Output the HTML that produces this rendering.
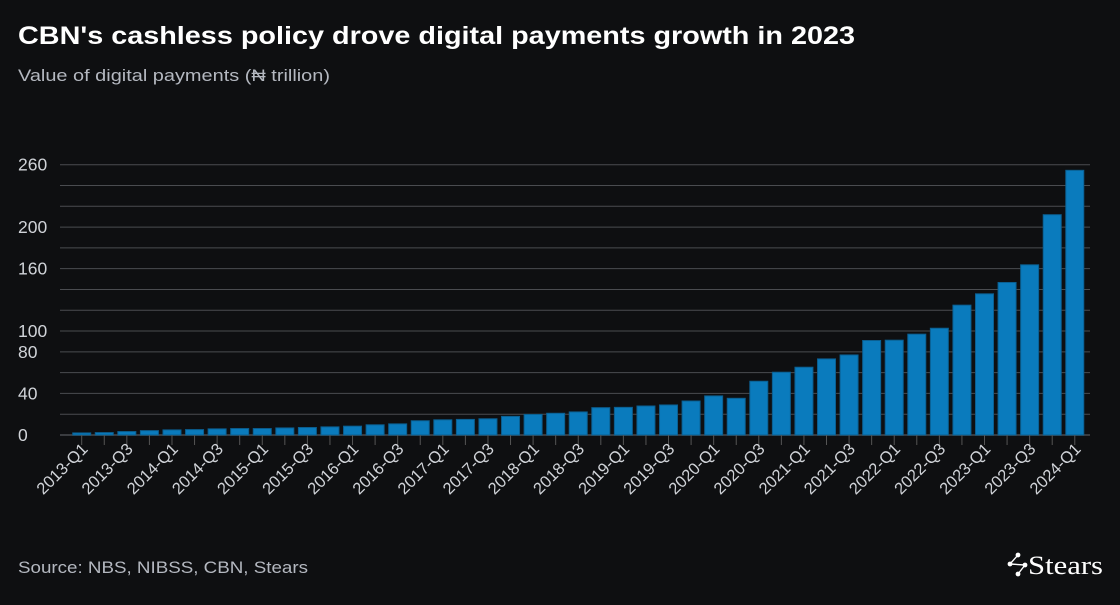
<!DOCTYPE html>
<html><head><meta charset="utf-8"><style>
body{margin:0;background:#0e0f11;width:1120px;height:600px;overflow:hidden;font-family:"Liberation Sans",sans-serif}
</style></head><body>
<svg width="1120" height="600" xmlns="http://www.w3.org/2000/svg">
<rect width="1120" height="600" fill="#0e0f11"/>
<text x="18" y="44" fill="#ffffff" font-size="25" font-weight="bold" textLength="837" lengthAdjust="spacingAndGlyphs">CBN's cashless policy drove digital payments growth in 2023</text>
<text x="18" y="81" fill="#b4b8c0" font-size="17" textLength="312" lengthAdjust="spacingAndGlyphs">Value of digital payments (₦ trillion)</text>
<g id="grid"></g><g id="bars"></g><g id="xaxis"></g><g id="yaxis"></g>
<text x="18" y="573" fill="#b4b8c0" font-size="17" textLength="290" lengthAdjust="spacingAndGlyphs">Source: NBS, NIBSS, CBN, Stears</text>
<g>
<circle cx="1010" cy="564" r="2.4" fill="#fff"/><circle cx="1018" cy="555" r="2.4" fill="#fff"/><circle cx="1018" cy="574" r="2.4" fill="#fff"/><circle cx="1025" cy="565" r="2.4" fill="#fff"/>
<path d="M1010 564 L1018 555 M1010 564 L1025 565 L1018 574" stroke="#fff" stroke-width="1.4" fill="none"/>
<text x="1028" y="574" fill="#fff" font-size="26" font-family="Liberation Serif, serif" textLength="75" lengthAdjust="spacingAndGlyphs">Stears</text>
</g>
</svg>
<script>
const quarters=[];for(let y=2013;y<=2024;y++)for(let q=1;q<=4;q++)if(!(y===2024&&q>1))quarters.push(y+'-Q'+q);
const values=[2.0,2.3,3.3,4.2,4.9,5.2,5.9,6.2,6.2,6.8,7.2,7.8,8.5,9.8,10.7,13.7,14.6,15.0,15.6,17.9,19.8,20.9,22.2,26.3,26.6,27.9,28.9,32.7,37.6,35.3,51.7,60.4,65.2,73.2,77.0,90.9,91.2,97.0,102.7,124.9,135.8,146.7,163.7,211.9,254.6];
const yTicks=[0,40,80,100,160,200,260];
const gridVals=[0,20,40,60,80,100,120,140,160,180,200,220,240,260];
const NS='http://www.w3.org/2000/svg';
const y0=435,pxPer=(435-164.7)/260;
const yS=v=>y0-v*pxPer;
const x0=81.7,step=22.57,bw=18;
const xS=i=>x0+i*step;
function mk(t,a,p){const e=document.createElementNS(NS,t);for(const k in a)e.setAttribute(k,a[k]);p.appendChild(e);return e;}
const grid=document.getElementById('grid');
gridVals.forEach(v=>{const l=mk('line',{x1:60,x2:1090,y1:yS(v),y2:yS(v),stroke:v===0?'#3a3c40':'#4a4c50','stroke-width':v===0?2:1},grid);

});
const yaxis=document.getElementById('yaxis');
yTicks.forEach(v=>{const t=mk('text',{x:18,y:yS(v)+6,fill:'#d0d3d8','font-size':17.5},yaxis);t.textContent=v;

});
const bars=document.getElementById('bars');
values.forEach((v,i)=>{const r=mk('rect',{x:xS(i)-bw/2,y:yS(v),width:bw,height:y0-yS(v),fill:'#0a7bbd',stroke:'#0b5f91','stroke-width':1},bars);

});
const xa=document.getElementById('xaxis');
quarters.forEach((q,i)=>{const l=mk('line',{x1:xS(i),x2:xS(i),y1:y0,y2:y0+10,stroke:'#555','stroke-width':1},xa);


if(i%2===0){const t=mk('text',{x:xS(i)+7,y:y0+15,fill:'#d0d3d8','font-size':16.5,'text-anchor':'end',transform:`rotate(-45 ${xS(i)+7} ${y0+15})`},xa);t.textContent=q;

}});
</script>
</body></html>
